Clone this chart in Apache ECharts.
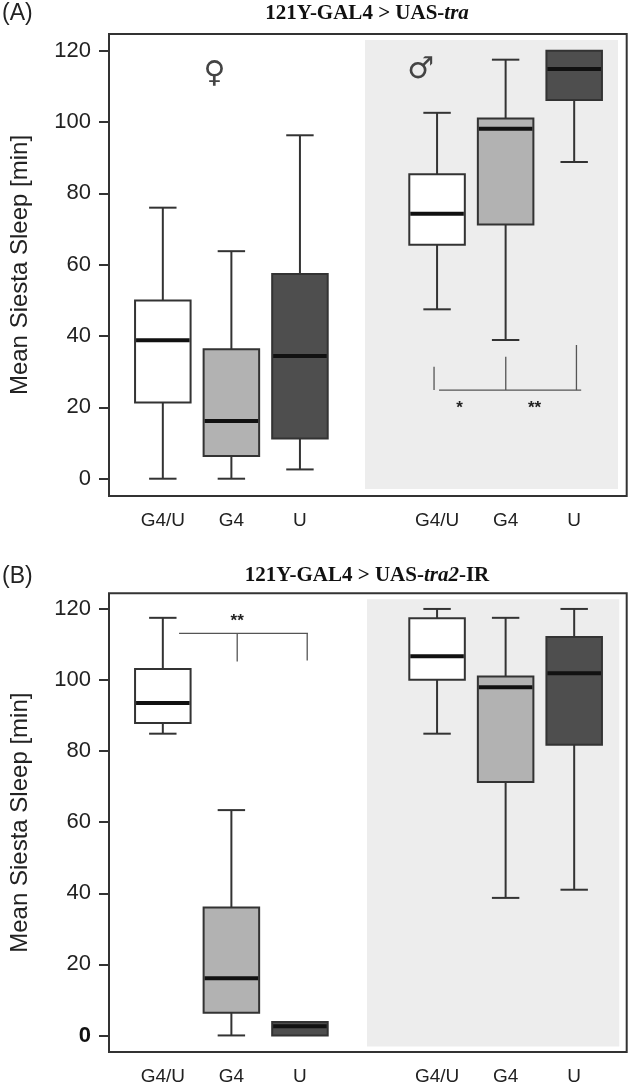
<!DOCTYPE html>
<html><head><meta charset="utf-8">
<script src="https://cdn.jsdelivr.net/npm/echarts@6/dist/echarts.min.js"></script>
<style>html,body{margin:0;padding:0;background:#fff}#c{width:629px;height:1086px}</style>
</head><body><div id="c"></div>
<script>
// ---------- data ----------
const xCategories = ['G4/U', 'G4', 'U', '', 'G4/U', 'G4', 'U'];
const femaleIdx = [0, 1, 2];
const maleIdx = [4, 5, 6];
const yTicks = [0, 20, 40, 60, 80, 100, 120];
// each row: [min, Q1, median, Q3, max] for G4/U, G4, U
const aFemale = [[0, 21.4, 38.8, 50, 76], [0, 6.4, 16.2, 36.3, 63.8], [2.6, 11.3, 34.4, 57.4, 96.3]];
const aMale = [[47.5, 65.6, 74.3, 85.4, 102.6], [38.9, 71.3, 98.1, 101, 117.5], [88.8, 106.2, 114.9, 120, 120]];
const bFemale = [[84.9, 87.9, 93.5, 103.1, 117.5], [0, 6.4, 16.1, 36, 63.4], [0, 0, 2.6, 3.75, 3.75]];
const bMale = [[84.9, 100.1, 106.7, 117.4, 120], [38.7, 71.3, 98, 101, 117.5], [41, 81.8, 101.9, 112.1, 120]];

// annotations in data coordinates [x1, y1, x2, y2]
const bracketsA = [[3.956, 31.4, 3.956, 24.9], [4.029, 24.85, 6.102, 24.85], [5.002, 34.2, 5.002, 24.85], [6.033, 37.5, 6.033, 24.85]];
const starsA = [[4.329, 19.7], [5.423, 19.7]];
const starsAText = ['*', '**'];
const bracketsB = [[0.237, 113.1, 2.117, 113.1], [1.085, 113.1, 1.085, 105.2], [2.106, 113.1, 2.106, 105.5]];
const starsB = [[1.085, 116.6]];
const starsBText = ['**'];
const sexA = [[0.755, 113.5], [3.763, 114.6]];
const sexAText = ['\u2640', '\u2642'];
const maleBgA = [[2.949, 123.0, 6.639, -2.9]];
const maleBgB = [[2.978, 122.7, 6.658, -3.1]];

// ---------- styles ----------
const fills = ['#ffffff', '#b2b2b2', '#4e4e4e'];
const INK = '#333';
const FONT = 'Liberation Sans, Arial, sans-serif';

function boxItems(female, male) {
  const out = [];
  female.forEach((v, i) => out.push({ value: [femaleIdx[i]].concat(v), itemStyle: { color: fills[i] } }));
  male.forEach((v, i) => out.push({ value: [maleIdx[i]].concat(v), itemStyle: { color: fills[i] } }));
  return out;
}

function renderBox(params, api) {
  const x = api.value(0);
  const v = [1, 2, 3, 4, 5].map(i => api.value(i));
  const p = v.map(val => api.coord([x, val]));
  const cx = p[0][0];
  const bw = api.size([0.81, 0])[0];
  const cw = api.size([0.40, 0])[0];
  const fill = api.visual('color');
  const ls = { stroke: INK, lineWidth: 2 };
  const ch = [];
  if (Math.abs(p[1][1] - p[0][1]) > 0.5) {
    ch.push({ type: 'line', shape: { x1: cx, y1: p[1][1], x2: cx, y2: p[0][1] }, style: ls });
    ch.push({ type: 'line', shape: { x1: cx - cw / 2, y1: p[0][1], x2: cx + cw / 2, y2: p[0][1] }, style: ls });
  }
  if (Math.abs(p[4][1] - p[3][1]) > 0.5) {
    ch.push({ type: 'line', shape: { x1: cx, y1: p[3][1], x2: cx, y2: p[4][1] }, style: ls });
    ch.push({ type: 'line', shape: { x1: cx - cw / 2, y1: p[4][1], x2: cx + cw / 2, y2: p[4][1] }, style: ls });
  }
  ch.push({ type: 'rect', shape: { x: cx - bw / 2, y: p[3][1], width: bw, height: p[1][1] - p[3][1] }, style: { fill: fill, stroke: INK, lineWidth: 2 } });
  ch.push({ type: 'line', shape: { x1: cx - bw / 2 + 1, y1: p[2][1], x2: cx + bw / 2 - 1, y2: p[2][1] }, style: { stroke: '#111', lineWidth: 4 } });
  return { type: 'group', children: ch };
}

function renderRect(params, api) {
  const a = api.coord([api.value(0), api.value(1)]);
  const b = api.coord([api.value(2), api.value(3)]);
  return { type: 'rect', shape: { x: a[0], y: a[1], width: b[0] - a[0], height: b[1] - a[1] }, style: { fill: '#ededed' } };
}
function renderSeg(params, api) {
  const a = api.coord([api.value(0), api.value(1)]);
  const b = api.coord([api.value(2), api.value(3)]);
  return { type: 'line', shape: { x1: a[0], y1: a[1], x2: b[0], y2: b[1] }, style: { stroke: '#555', lineWidth: 1.3 } };
}
function textRenderer(texts, size, family, weight, color) {
  return function (params, api) {
    const a = api.coord([api.value(0), api.value(1)]);
    return { type: 'text', x: a[0], y: a[1], style: { text: texts[params.dataIndex], fontSize: size, fontFamily: family, fontWeight: weight, fill: color, align: 'center', verticalAlign: 'middle' } };
  };
}

function yAxis(g, min, max, boldZero) {
  return {
    type: 'value', gridIndex: g, min: min, max: max,
    name: 'Mean Siesta Sleep [min]', nameLocation: 'middle', nameGap: 77, nameRotate: 90,
    nameTextStyle: { fontSize: 24, fontFamily: FONT, color: '#222' },
    axisLine: { show: false, onZero: false }, splitLine: { show: false },
    axisTick: { show: true, inside: false, length: 10, customValues: yTicks, lineStyle: { color: INK, width: 2 } },
    axisLabel: {
      customValues: yTicks, margin: 18, fontSize: 22, color: '#222', fontFamily: FONT,
      formatter: v => (boldZero && v === 0) ? '{b|0}' : String(v),
      rich: { b: { fontSize: 22, fontWeight: 'bold', fontFamily: FONT, color: '#111' } }
    }
  };
}
function xAxis(g) {
  return {
    type: 'value', gridIndex: g, min: -0.785, max: 6.766,
    axisLine: { show: false, onZero: false }, axisTick: { show: false }, splitLine: { show: false },
    axisLabel: { customValues: femaleIdx.concat(maleIdx), formatter: v => xCategories[Math.round(v)], margin: 15, fontSize: 19, color: '#222', fontFamily: FONT }
  };
}

const titleRich = {
  b: { fontSize: 21, fontWeight: 'bold', fontFamily: 'Liberation Serif, Times New Roman, serif', fill: '#111', color: '#111' },
  i: { fontSize: 21, fontWeight: 'bold', fontStyle: 'italic', fontFamily: 'Liberation Serif, Times New Roman, serif', fill: '#111', color: '#111' }
};

const option = {
  animation: false,
  backgroundColor: '#fff',
  grid: [
    { left: 107, top: 34, width: 519.7, height: 462, show: true, borderColor: INK, borderWidth: 2, backgroundColor: '#fff' },
    { left: 107, top: 593.3, width: 519.7, height: 460, show: true, borderColor: INK, borderWidth: 2, backgroundColor: '#fff' }
  ],
  xAxis: [xAxis(0), xAxis(1)],
  yAxis: [yAxis(0, -4.85, 124.7, false), yAxis(1, -4.66, 124.4, true)],
  series: [
    { type: 'custom', xAxisIndex: 0, yAxisIndex: 0, z: 1, silent: true, renderItem: renderRect, data: maleBgA },
    { type: 'custom', xAxisIndex: 1, yAxisIndex: 1, z: 1, silent: true, renderItem: renderRect, data: maleBgB },
    { type: 'custom', xAxisIndex: 0, yAxisIndex: 0, z: 3, renderItem: renderBox, data: boxItems(aFemale, aMale), encode: { x: 0, y: [1, 2, 3, 4, 5] } },
    { type: 'custom', xAxisIndex: 1, yAxisIndex: 1, z: 3, renderItem: renderBox, data: boxItems(bFemale, bMale), encode: { x: 0, y: [1, 2, 3, 4, 5] } },
    { type: 'custom', xAxisIndex: 0, yAxisIndex: 0, z: 4, silent: true, renderItem: renderSeg, data: bracketsA },
    { type: 'custom', xAxisIndex: 1, yAxisIndex: 1, z: 4, silent: true, renderItem: renderSeg, data: bracketsB },
    { type: 'custom', xAxisIndex: 0, yAxisIndex: 0, z: 4, silent: true, renderItem: textRenderer(starsAText, 17, FONT, 'bold', '#222'), data: starsA },
    { type: 'custom', xAxisIndex: 1, yAxisIndex: 1, z: 4, silent: true, renderItem: textRenderer(starsBText, 17, FONT, 'bold', '#222'), data: starsB },
    { type: 'custom', xAxisIndex: 0, yAxisIndex: 0, z: 4, silent: true, renderItem: textRenderer(sexAText, 30, 'DejaVu Sans, sans-serif', 'normal', '#444'), data: sexA }
  ],
  graphic: [
    { type: 'text', left: 2, top: 2, style: { text: '(A)', fontSize: 23, fontFamily: FONT, fill: '#222' } },
    { type: 'text', left: 2, top: 565, style: { text: '(B)', fontSize: 23, fontFamily: FONT, fill: '#222' } },
    { type: 'text', x: 367, y: 14, style: { text: '{b|121Y-GAL4 > UAS-}{i|tra}', rich: titleRich, align: 'center', verticalAlign: 'middle' } },
    { type: 'text', x: 367, y: 576, style: { text: '{b|121Y-GAL4 > UAS-}{i|tra2}{b|-IR}', rich: titleRich, align: 'center', verticalAlign: 'middle' } }
  ]
};

const chart = echarts.init(document.getElementById('c'), null, { renderer: 'canvas' });
chart.setOption(option);
</script>
</body></html>
